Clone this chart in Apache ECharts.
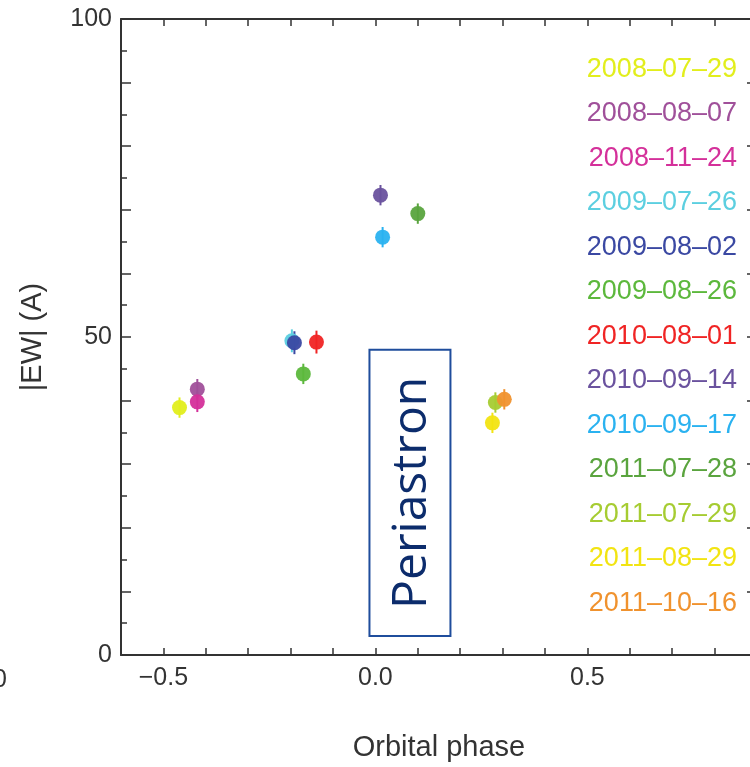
<!doctype html>
<html>
  <head>
    <meta charset="utf-8">
    <title>EW vs orbital phase</title>
    <script src="https://cdn.jsdelivr.net/npm/echarts@6/dist/echarts.min.js"></script>
    <style>
      html, body { margin: 0; padding: 0; background: #ffffff; }
      #main { width: 750px; height: 767px; }
    </style>
  </head>
  <body>
    <div id="main"></div>
    <script type="text/javascript">
      // observation dates (legend order)
      var dates = ['2008–07–29', '2008–08–07', '2008–11–24', '2009–07–26', '2009–08–02', '2009–08–26',
        '2010–08–01', '2010–09–14', '2010–09–17', '2011–07–28', '2011–07–29', '2011–08–29', '2011–10–16'];
      var colors = ['#e2ee1c', '#a0509a', '#d4309a', '#5ccfe0', '#3a48a2', '#5cb83c',
        '#f02424', '#6a529e', '#2ab2f0', '#5aa43e', '#a6cc32', '#f2e412', '#f0922e'];
      // orbital phase, |EW| and error for each date
      var phase = [-0.462, -0.42, -0.42, -0.197, -0.191, -0.17, -0.139, 0.012, 0.017, 0.1, 0.283, 0.276, 0.304];
      var ew = [38.9, 41.8, 39.8, 49.4, 49.1, 44.2, 49.2, 72.3, 65.7, 69.4, 39.7, 36.5, 40.2];
      var ewErr = [1.6, 1.6, 1.6, 1.8, 1.8, 1.6, 1.8, 1.6, 1.6, 1.6, 1.6, 1.6, 1.6];

      var xTickLabels = [-0.5, 0.0, 0.5];
      var yTickLabels = [0, 50, 100];
      var periastron = { label: 'Periastron', x0: -0.014, x1: 0.177, y0: 3, y1: 48 };

      var axisColor = '#333333';
      var font = 'Liberation Sans';

      function xLabel(v) {
        for (var i = 0; i < xTickLabels.length; i++) {
          if (Math.abs(v - xTickLabels[i]) < 1e-6) return v.toFixed(1).replace('-', '\u2212');
        }
        return '';
      }
      function yLabel(v) {
        return yTickLabels.indexOf(Math.round(v)) >= 0 ? String(Math.round(v)) : '';
      }

      var series = [];
      var legendData = [];
      for (var i = 0; i < dates.length; i++) {
        legendData.push({ name: dates[i], textStyle: { color: colors[i] } });
        series.push({
          name: dates[i],
          type: 'scatter',
          symbol: 'circle',
          symbolSize: 15,
          itemStyle: { color: colors[i], opacity: 0.95 },
          data: [[phase[i], ew[i]]],
          z: 3
        });
      }
      var errData = [];
      for (var j = 0; j < dates.length; j++) {
        errData.push([phase[j], ew[j], ewErr[j], j]);
      }
      series.unshift({
        type: 'custom',
        data: errData,
        z: 2,
        renderItem: function(params, api) {
          var x = api.value(0), y = api.value(1), e = api.value(2);
          var p1 = api.coord([x, y + e]);
          var p2 = api.coord([x, y - e]);
          return {
            type: 'line',
            shape: { x1: p1[0], y1: p1[1], x2: p2[0], y2: p2[1] },
            style: { stroke: colors[api.value(3)], lineWidth: 2 }
          };
        }
      });

      var baseX = {
        type: 'value', min: -0.6, max: 0.9, interval: 0.1,
        axisLine: { show: true, onZero: false, lineStyle: { color: axisColor, width: 2 } },
        axisTick: { show: true, inside: true, length: 7, lineStyle: { color: axisColor, width: 1.5 } },
        splitLine: { show: false }
      };
      var baseY = {
        type: 'value', min: 0, max: 100, interval: 10,
        axisLine: { show: true, onZero: false, lineStyle: { color: axisColor, width: 2 } },
        axisTick: { show: true, inside: true, length: 10, lineStyle: { color: axisColor, width: 1.5 } },
        minorTick: { show: true, splitNumber: 2, length: 6, lineStyle: { color: axisColor, width: 1.5 } },
        splitLine: { show: false }
      };

      var chart = echarts.init(document.getElementById('main'));
      chart.setOption({
        backgroundColor: '#ffffff',
        animation: false,
        grid: { left: 121, right: -7, top: 19, bottom: 112, outerBoundsMode: 'none', containLabel: false },
        legend: {
          orient: 'vertical',
          right: 8, top: 56, padding: 0,
          align: 'right',
          icon: 'none',
          itemWidth: 0, itemHeight: 27, itemGap: 17.5,
          selectedMode: false,
          textStyle: { fontFamily: font, fontSize: 27, padding: 0 },
          data: legendData
        },
        xAxis: [
          Object.assign({}, baseX, {
            position: 'bottom',
            name: 'Orbital phase', nameLocation: 'middle', nameGap: 78,
            nameTextStyle: { fontFamily: font, fontSize: 29, color: axisColor },
            axisLabel: { formatter: xLabel, fontFamily: font, fontSize: 25, color: axisColor, margin: 11 }
          }),
          Object.assign({}, baseX, { position: 'top', axisLabel: { show: false } })
        ],
        yAxis: [
          Object.assign({}, baseY, {
            position: 'left',
            name: '|EW| (A)', nameLocation: 'middle', nameGap: 74,
            nameTextStyle: { fontFamily: font, fontSize: 29, color: axisColor },
            axisLabel: { formatter: yLabel, fontFamily: font, fontSize: 25, color: axisColor, margin: 9 }
          }),
          Object.assign({}, baseY, { position: 'right', axisLabel: { show: false } })
        ],
        series: series
      });

      // Periastron box, placed in data coordinates
      var tl = chart.convertToPixel({ xAxisIndex: 0, yAxisIndex: 0 }, [periastron.x0, periastron.y1]);
      var br = chart.convertToPixel({ xAxisIndex: 0, yAxisIndex: 0 }, [periastron.x1, periastron.y0]);
      chart.setOption({
        graphic: [
          {
            type: 'rect',
            shape: { x: tl[0], y: tl[1], width: br[0] - tl[0], height: br[1] - tl[1] },
            style: { fill: '#ffffff', stroke: '#1f4d9c', lineWidth: 2 },
            z: 10
          },
          {
            type: 'text',
            x: (tl[0] + br[0]) / 2 + 2,
            y: (tl[1] + br[1]) / 2,
            rotation: Math.PI / 2,
            style: {
              text: periastron.label,
              fill: '#0c2c6c',
              font: '48px "Open Sans"',
              align: 'center',
              verticalAlign: 'middle'
            },
            z: 11
          },
          {
            // cut-off label of the neighbouring panel at the left edge
            type: 'text', x: -7, y: 680,
            style: { text: '0', fill: axisColor, font: '25px "Liberation Sans"', verticalAlign: 'middle' }
          }
        ]
      });
    </script>
  </body>
</html>
